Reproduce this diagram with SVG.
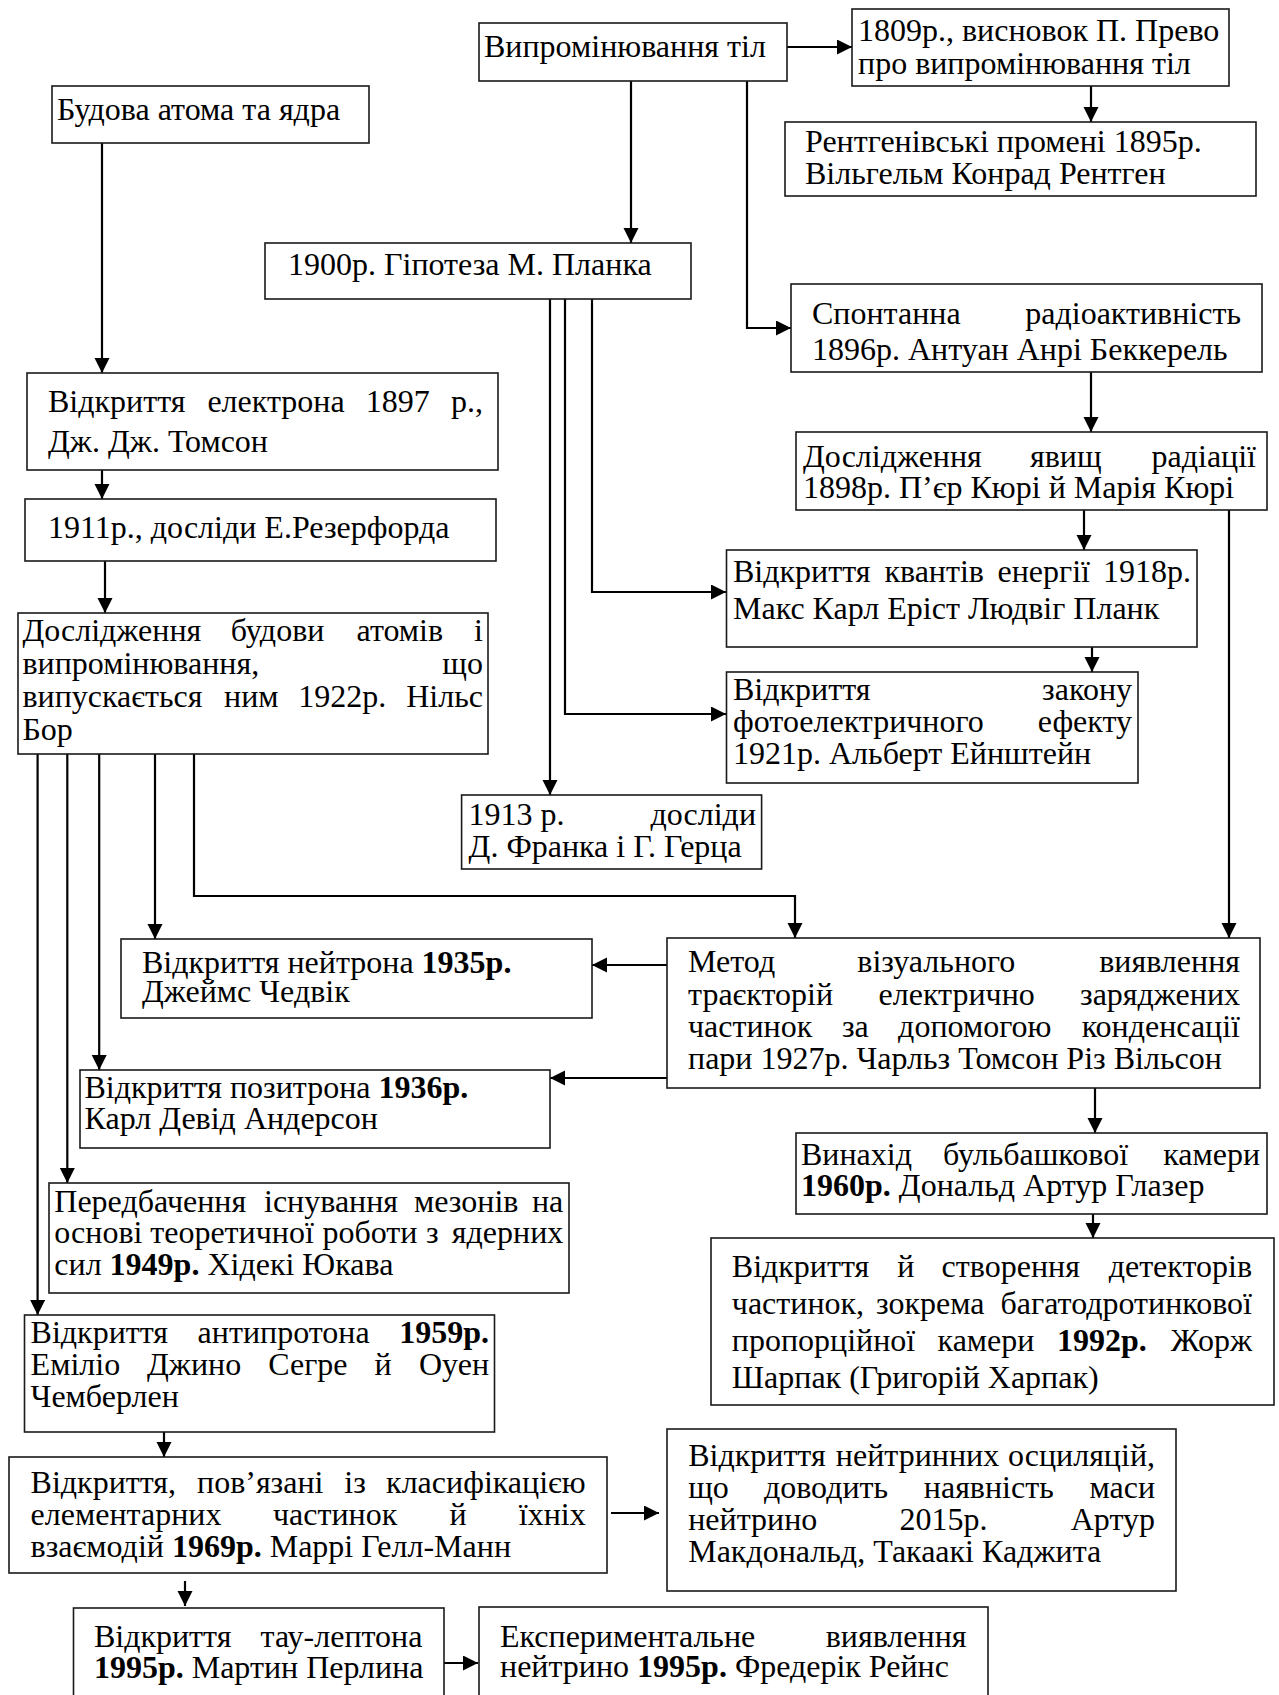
<svg xmlns="http://www.w3.org/2000/svg" width="1279" height="1695" viewBox="0 0 1279 1695">
<style>
.box{fill:#fff;stroke:#1a1a1a;stroke-width:1.6}
.t{font-family:"Liberation Serif","Times New Roman",serif;font-size:32px;fill:#000}
.e{text-anchor:end}
.c{fill:none;stroke:#000;stroke-width:2.2}
</style>
<defs>
<marker id="ah" markerUnits="userSpaceOnUse" markerWidth="16" markerHeight="16" refX="15" refY="7.5" orient="auto">
<path d="M0,0 L15,7.5 L0,15 Z" fill="#000"/>
</marker>
</defs>
<rect width="1279" height="1695" fill="#fff"/>

<g id="connectors">
<path class="c" d="M102,143 V373" marker-end="url(#ah)"/>
<path class="c" d="M102,470 V499" marker-end="url(#ah)"/>
<path class="c" d="M105,561 V613" marker-end="url(#ah)"/>
<path class="c" d="M37.6,754 V1315" marker-end="url(#ah)"/>
<path class="c" d="M67.3,754 V1183" marker-end="url(#ah)"/>
<path class="c" d="M99.2,754 V1070" marker-end="url(#ah)"/>
<path class="c" d="M155,754 V939" marker-end="url(#ah)"/>
<path class="c" d="M194,754 V896 H795 V938" marker-end="url(#ah)"/>
<path class="c" d="M787,47 H852" marker-end="url(#ah)"/>
<path class="c" d="M1091,86 V122" marker-end="url(#ah)"/>
<path class="c" d="M747,81 V328 H791" marker-end="url(#ah)"/>
<path class="c" d="M631,81 V243" marker-end="url(#ah)"/>
<path class="c" d="M1091,372 V432" marker-end="url(#ah)"/>
<path class="c" d="M1084,510 V550" marker-end="url(#ah)"/>
<path class="c" d="M1229,510 V938" marker-end="url(#ah)"/>
<path class="c" d="M1092,647 V672" marker-end="url(#ah)"/>
<path class="c" d="M592,299 V592 H726" marker-end="url(#ah)"/>
<path class="c" d="M565,299 V714 H726" marker-end="url(#ah)"/>
<path class="c" d="M550,299 V795" marker-end="url(#ah)"/>
<path class="c" d="M667,965 H592" marker-end="url(#ah)"/>
<path class="c" d="M667,1078 H550" marker-end="url(#ah)"/>
<path class="c" d="M1095,1088 V1133" marker-end="url(#ah)"/>
<path class="c" d="M1093,1214 V1238" marker-end="url(#ah)"/>
<path class="c" d="M164,1432 V1457" marker-end="url(#ah)"/>
<path class="c" d="M611,1513 H659" marker-end="url(#ah)"/>
<path class="c" d="M185,1581 V1606" marker-end="url(#ah)"/>
<path class="c" d="M444,1663 H478" marker-end="url(#ah)"/>
</g>

<g id="n-vyprom"><rect class="box" x="479" y="23" width="308" height="58"/>
<text class="t" x="484" y="57">Випромінювання тіл</text></g>

<g id="n-prevo"><rect class="box" x="852" y="9" width="377" height="77"/>
<text class="t" x="858" y="41">1809р., висновок П. Прево</text>
<text class="t" x="858" y="74">про випромінювання тіл</text></g>

<g id="n-rentgen"><rect class="box" x="785" y="122" width="471" height="74"/>
<text class="t" x="805" y="152">Рентгенівські промені 1895р.</text>
<text class="t" x="805" y="184">Вільгельм Конрад Рентген</text></g>

<g id="n-spont"><rect class="box" x="791" y="284" width="471" height="88"/>
<text class="t" x="812" y="324">Спонтанна</text><text class="t e" x="1241" y="324">радіоактивність</text>
<text class="t" x="812" y="360">1896р. Антуан Анрі Беккерель</text></g>

<g id="n-curie"><rect class="box" x="796" y="432" width="471" height="78"/>
<text class="t" y="467"><tspan x="803">Дослідження</tspan><tspan x="1030">явищ</tspan></text><text class="t e" x="1256" y="467">радіації</text>
<text class="t" x="803" y="498">1898р. П’єр Кюрі й Марія Кюрі</text></g>

<g id="n-kvant"><rect class="box" x="726.5" y="550" width="470.5" height="97"/>
<text class="t" y="582"><tspan x="733">Відкриття</tspan><tspan x="884.4">квантів</tspan><tspan x="997.5">енергії</tspan></text><text class="t e" x="1191" y="582">1918р.</text>
<text class="t" x="733" y="619">Макс Карл Еріст Людвіг Планк</text></g>

<g id="n-foto"><rect class="box" x="726.5" y="672" width="411.5" height="111"/>
<text class="t" x="733" y="700">Відкриття</text><text class="t e" x="1132" y="700">закону</text>
<text class="t" x="733" y="732">фотоелектричного</text><text class="t e" x="1132" y="732">ефекту</text>
<text class="t" x="733" y="764">1921р. Альберт Ейнштейн</text></g>

<g id="n-planck"><rect class="box" x="265" y="243" width="426" height="56"/>
<text class="t" x="288" y="275">1900р. Гіпотеза М. Планка</text></g>

<g id="n-1913"><rect class="box" x="461.6" y="795" width="300" height="74"/>
<text class="t" x="468.6" y="825">1913 р.</text><text class="t e" x="756" y="825">досліди</text>
<text class="t" x="468.6" y="857">Д. Франка і Г. Герца</text></g>

<g id="n-budova"><rect class="box" x="52" y="86" width="317" height="57"/>
<text class="t" x="57" y="120">Будова атома та ядра</text></g>

<g id="n-electron"><rect class="box" x="27" y="373" width="471" height="97"/>
<text class="t" y="412"><tspan x="48">Відкриття</tspan><tspan x="207.4">електрона</tspan><tspan x="365.8">1897</tspan></text><text class="t e" x="483" y="412">р.,</text>
<text class="t" x="48" y="452">Дж. Дж. Томсон</text></g>

<g id="n-1911"><rect class="box" x="25" y="499" width="471" height="62"/>
<text class="t" x="48" y="538">1911р., досліди Е.Резерфорда</text></g>

<g id="n-bor"><rect class="box" x="18" y="613" width="470" height="141"/>
<text class="t" y="641"><tspan x="22.4">Дослідження</tspan><tspan x="230.8">будови</tspan><tspan x="356.5">атомів</tspan></text><text class="t e" x="483" y="641">і</text>
<text class="t" x="22.4" y="674">випромінювання,</text><text class="t e" x="483" y="674">що</text>
<text class="t" y="707"><tspan x="22.4">випускається</tspan><tspan x="224.1">ним</tspan><tspan x="298.2">1922р.</tspan></text><text class="t e" x="483" y="707">Нільс</text>
<text class="t" x="22.4" y="740">Бор</text></g>

<g id="n-metod"><rect class="box" x="667" y="938" width="593" height="150"/>
<text class="t" y="972"><tspan x="688">Метод</tspan><tspan x="857.3">візуального</tspan></text><text class="t e" x="1240" y="972">виявлення</text>
<text class="t" y="1005"><tspan x="688">траєкторій</tspan><tspan x="878.6">електрично</tspan></text><text class="t e" x="1240" y="1005">заряджених</text>
<text class="t" y="1037"><tspan x="688">частинок</tspan><tspan x="841.9">за</tspan><tspan x="898.1">допомогою</tspan></text><text class="t e" x="1240" y="1037">конденсації</text>
<text class="t" x="688" y="1069">пари 1927р. Чарльз Томсон Різ Вільсон</text></g>

<g id="n-neutron"><rect class="box" x="121" y="939" width="471" height="79"/>
<text class="t" x="142" y="973">Відкриття нейтрона <tspan font-weight="bold">1935р.</tspan></text>
<text class="t" x="142" y="1002">Джеймс Чедвік</text></g>

<g id="n-positron"><rect class="box" x="80" y="1070" width="470" height="78"/>
<text class="t" x="84.5" y="1098">Відкриття позитрона <tspan font-weight="bold">1936р.</tspan></text>
<text class="t" x="84.5" y="1129">Карл Девід Андерсон</text></g>

<g id="n-mezon"><rect class="box" x="49" y="1183" width="520" height="110"/>
<text class="t" y="1212"><tspan x="54.3">Передбачення</tspan><tspan x="264">існування</tspan><tspan x="414">мезонів</tspan></text><text class="t e" x="563.3" y="1212">на</text>
<text class="t" y="1243"><tspan x="54.3">основі</tspan><tspan x="150.2">теоретичної</tspan><tspan x="322.4">роботи</tspan><tspan x="426.1">з</tspan></text><text class="t e" x="563.3" y="1243">ядерних</text>
<text class="t" x="54.3" y="1275">сил <tspan font-weight="bold">1949р.</tspan> Хідекі Юкава</text></g>

<g id="n-bubble"><rect class="box" x="796" y="1133" width="471" height="81"/>
<text class="t" y="1165"><tspan x="801">Винахід</tspan><tspan x="943">бульбашкової</tspan></text><text class="t e" x="1260" y="1165">камери</text>
<text class="t" x="801" y="1196"><tspan font-weight="bold">1960р.</tspan> Дональд Артур Глазер</text></g>

<g id="n-detect"><rect class="box" x="711" y="1238" width="563" height="167"/>
<text class="t" y="1277"><tspan x="731.8">Відкриття</tspan><tspan x="897.3">й</tspan><tspan x="941.6">створення</tspan></text><text class="t e" x="1252" y="1277">детекторів</text>
<text class="t" y="1314"><tspan x="731.8">частинок,</tspan><tspan x="876.1">зокрема</tspan></text><text class="t e" x="1252" y="1314">багатодротинкової</text>
<text class="t" y="1351"><tspan x="731.8">пропорційної</tspan><tspan x="937.6">камери</tspan><tspan x="1057" font-weight="bold">1992р.</tspan></text><text class="t e" x="1252" y="1351">Жорж</text>
<text class="t" x="731.8" y="1388">Шарпак (Григорій Харпак)</text></g>

<g id="n-antiproton"><rect class="box" x="24.5" y="1315" width="470" height="117"/>
<text class="t" y="1343"><tspan x="30.6">Відкриття</tspan><tspan x="197.6">антипротона</tspan></text><text class="t e" x="489" y="1343" font-weight="bold">1959р.</text>
<text class="t" y="1375"><tspan x="30.6">Еміліо</tspan><tspan x="147">Джино</tspan><tspan x="268.3">Сегре</tspan><tspan x="374.4">й</tspan></text><text class="t e" x="489" y="1375">Оуен</text>
<text class="t" x="30.6" y="1407">Чемберлен</text></g>

<g id="n-gellmann"><rect class="box" x="9" y="1457" width="598" height="116"/>
<text class="t" y="1493"><tspan x="30.6">Відкриття,</tspan><tspan x="197">пов’язані</tspan><tspan x="344.3">із</tspan></text><text class="t e" x="585.7" y="1493">класифікацією</text>
<text class="t" y="1525"><tspan x="30.6">елементарних</tspan><tspan x="272.9">частинок</tspan><tspan x="449.5">й</tspan></text><text class="t e" x="585.7" y="1525">їхніх</text>
<text class="t" x="30.6" y="1557">взаємодій <tspan font-weight="bold">1969р.</tspan> Маррі Гелл-Манн</text></g>

<g id="n-neutrino"><rect class="box" x="667" y="1429" width="509" height="162"/>
<text class="t" y="1466"><tspan x="688.2">Відкриття</tspan><tspan x="835.8">нейтринних</tspan></text><text class="t e" x="1155" y="1466">осциляцій,</text>
<text class="t" y="1498"><tspan x="688.2">що</tspan><tspan x="763.9">доводить</tspan><tspan x="923.8">наявність</tspan></text><text class="t e" x="1155" y="1498">маси</text>
<text class="t" y="1530"><tspan x="688.2">нейтрино</tspan><tspan x="899.4">2015р.</tspan></text><text class="t e" x="1155" y="1530">Артур</text>
<text class="t" x="688.2" y="1562">Макдональд, Такаакі Каджита</text></g>

<g id="n-tau"><rect class="box" x="73.5" y="1608" width="370.5" height="120"/>
<text class="t" x="93.9" y="1647">Відкриття</text><text class="t e" x="422.4" y="1647">тау-лептона</text>
<text class="t" x="93.9" y="1678"><tspan font-weight="bold">1995р.</tspan> Мартин Перлина</text></g>

<g id="n-exper"><rect class="box" x="479" y="1607" width="509" height="120"/>
<text class="t" x="500" y="1647">Експериментальне</text><text class="t e" x="966.5" y="1647">виявлення</text>
<text class="t" x="500" y="1677">нейтрино <tspan font-weight="bold">1995р.</tspan> Фредерік Рейнс</text></g>
</svg>
